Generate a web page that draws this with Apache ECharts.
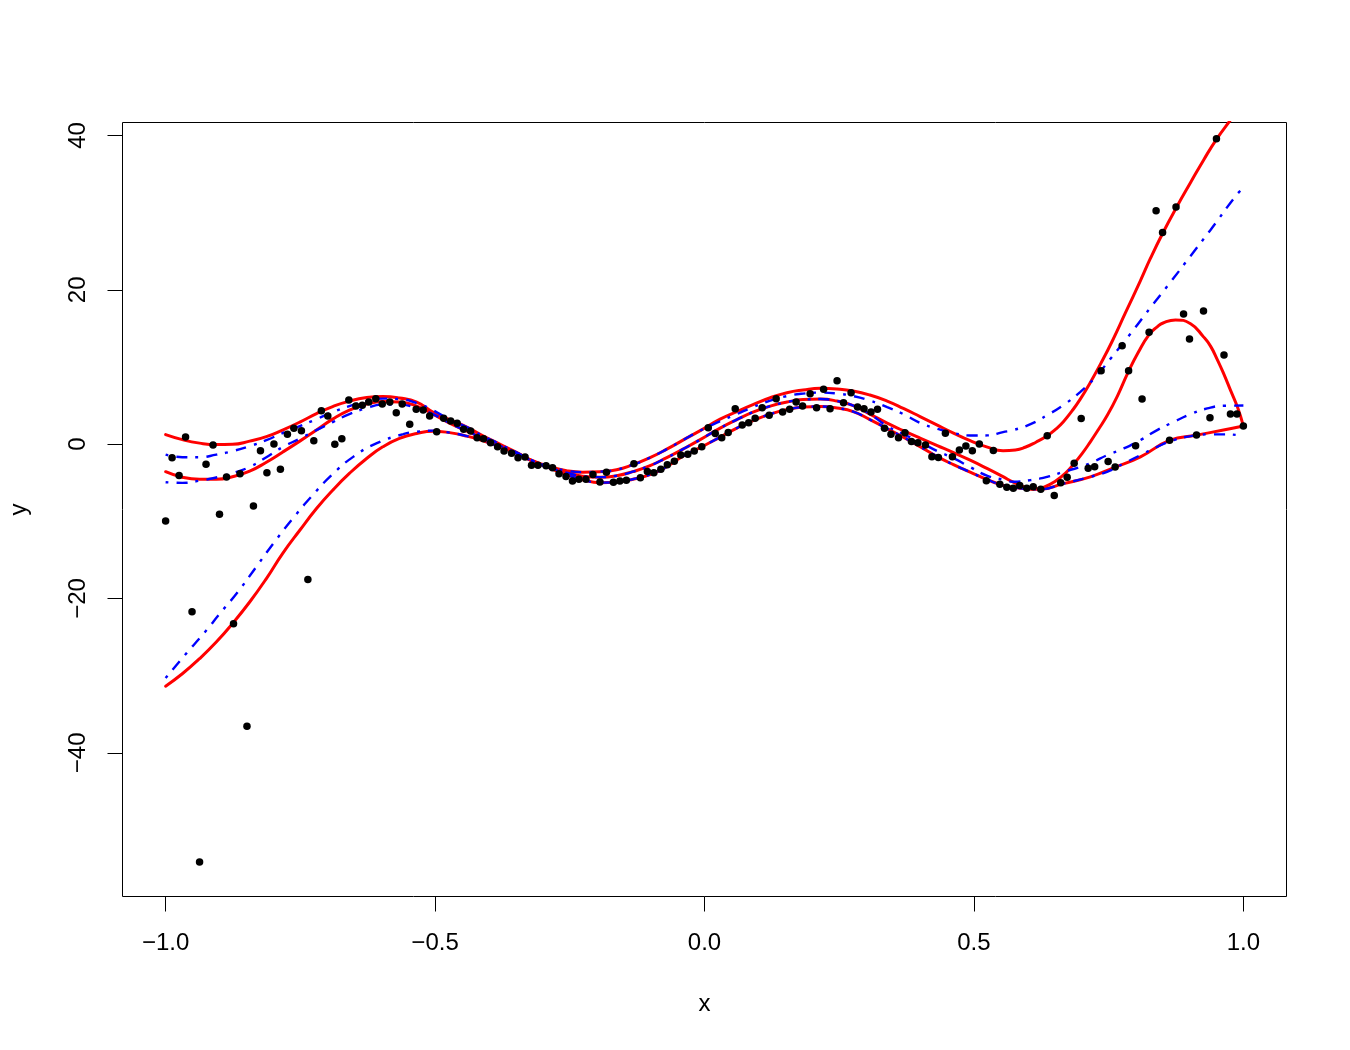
<!DOCTYPE html>
<html>
<head>
<meta charset="utf-8">
<script src="https://cdn.jsdelivr.net/npm/echarts@6/dist/echarts.min.js"></script>
<style>
html,body{margin:0;padding:0;background:#fff;}
#chart{width:1350px;height:1050px;}
</style>
</head>
<body>
<div id="chart"></div>
<script>
// ---- tick labels ----
const xTicks = [-1, -0.5, 0, 0.5, 1];
const yTicks = [-40, -20, 0, 20, 40];

// ---- observed points ----
const ptX = [-1.000,-0.988,-0.975,-0.963,-0.951,-0.937,-0.925,-0.912,-0.900,-0.887,
-0.874,-0.862,-0.849,-0.837,-0.824,-0.812,-0.799,-0.787,-0.774,-0.762,
-0.748,-0.736,-0.725,-0.711,-0.699,-0.686,-0.673,-0.660,-0.647,-0.635,
-0.623,-0.610,-0.598,-0.584,-0.572,-0.561,-0.547,-0.535,-0.522,-0.510,
-0.497,-0.484,-0.471,-0.459,-0.447,-0.434,-0.422,-0.410,-0.397,-0.384,
-0.372,-0.358,-0.346,-0.333,-0.321,-0.309,-0.294,-0.282,-0.270,-0.257,
-0.245,-0.233,-0.220,-0.207,-0.194,-0.182,-0.169,-0.157,-0.145,-0.131,
-0.119,-0.106,-0.094,-0.081,-0.069,-0.056,-0.044,-0.031,-0.019,-0.005,
0.007,0.020,0.032,0.044,0.057,0.070,0.082,0.094,0.107,0.120,
0.133,0.145,0.158,0.170,0.182,0.196,0.208,0.221,0.233,0.246,
0.258,0.272,0.284,0.296,0.309,0.321,0.334,0.346,0.360,0.372,
0.384,0.396,0.410,0.422,0.434,0.447,0.460,0.473,0.485,0.497,
0.510,0.523,0.536,0.548,0.561,0.573,0.585,0.598,0.610,0.624,
0.636,0.649,0.661,0.673,0.686,0.699,0.712,0.724,0.736,0.749,
0.762,0.775,0.787,0.800,0.812,0.825,0.838,0.850,0.863,0.875,
0.889,0.900,0.913,0.926,0.938,0.950,0.964,0.976,0.988,1.000];
const ptY = [-9.97,-1.76,-4.05,0.92,-21.73,-54.15,-2.62,-0.12,-9.10,-4.27,
-23.29,-3.84,-36.55,-8.03,-0.86,-3.71,0.01,-3.27,1.27,2.05,
1.74,-17.53,0.44,4.33,3.64,-0.03,0.70,5.72,4.94,5.03,
5.46,5.89,5.20,5.46,4.07,5.20,2.57,4.51,4.42,3.64,
1.61,3.35,3.00,2.70,1.92,1.70,0.83,0.70,0.18,-0.34,
-0.89,-1.19,-1.76,-1.67,-2.75,-2.75,-2.80,-3.06,-3.84,-4.20,
-4.78,-4.56,-4.56,-3.92,-4.91,-3.64,-4.95,-4.78,-4.68,-2.54,
-4.36,-3.55,-3.72,-3.25,-2.67,-2.23,-1.41,-1.31,-0.89,-0.35,
2.13,1.37,0.83,1.50,4.59,2.48,2.77,3.35,4.72,3.73,
5.89,4.16,4.51,5.46,4.94,6.53,4.72,7.11,4.59,8.22,
5.37,6.66,4.81,4.59,4.16,4.51,2.05,1.27,0.83,1.48,
0.34,0.18,-0.12,-1.63,-1.74,1.40,-1.63,-0.77,-0.25,-0.87,
0.01,-4.75,-0.83,-5.21,-5.59,-5.72,-5.37,-5.72,-5.52,-5.85,
1.09,-6.66,-5.00,-4.29,-2.49,3.32,-3.14,-2.94,9.50,-2.26,
-2.97,12.76,9.52,-0.21,5.85,14.50,30.26,27.41,0.49,30.74,
16.87,13.63,1.18,17.26,3.42,39.56,11.55,3.90,3.90,2.35];

// ---- common x grid for the curves (left and middle part) ----
const gx = [-1.000,-0.969,-0.937,-0.906,-0.876,-0.844,-0.813,-0.783,-0.751,-0.720,
-0.690,-0.659,-0.627,-0.597,-0.566,-0.534,-0.504,-0.473,-0.441,-0.412,
-0.380,-0.348,-0.319,-0.287,-0.256,-0.226,-0.194,-0.163,-0.133,-0.101,
-0.070,-0.040,-0.008,0.029,0.060,0.090,0.122,0.153,0.183,0.215,
0.246,0.276,0.307,0.339,0.369,0.400,0.432,0.462,0.493,0.525,0.554];

// red solid curves
const redUpperY = [1.23,0.58,0.13,-0.06,-0.03,0.39,0.97,1.82,2.85,3.96,
4.87,5.58,6.03,6.16,5.97,5.45,4.15,3.18,2.21,1.10,
0.00,-1.10,-2.14,-2.92,-3.44,-3.63,-3.57,-3.31,-2.66,-1.75,
-0.65,0.52,1.75,3.24,4.22,5.12,6.01,6.66,7.01,7.23,
7.14,6.88,6.36,5.58,4.63,3.57,2.46,1.43,0.45,-0.39,-0.85];
const redUpperTailX = [0.577,0.595,0.615,0.636,0.653,0.666,0.682,0.697,0.716,0.735,0.757,0.781,0.809,0.827,0.850,0.876,0.902,0.926,0.950,0.976,1.000];
const redUpperTailY = [-0.75,-0.40,0.25,1.08,2.00,2.90,4.30,5.80,8.00,10.40,13.40,17.00,21.20,24.00,27.30,30.70,33.90,36.80,39.50,42.00,44.30];

const redMidY = [-3.57,-4.28,-4.54,-4.54,-4.22,-3.50,-2.34,-1.04,0.39,1.82,
3.24,4.41,5.19,5.51,5.45,4.93,3.89,2.72,1.69,0.78,
-0.19,-1.17,-2.21,-3.05,-3.70,-4.15,-4.28,-4.09,-3.57,-2.79,
-1.75,-0.65,0.58,2.08,3.18,4.15,4.93,5.45,5.77,5.84,
5.58,4.99,3.89,2.72,1.75,0.78,-0.19,-1.10,-2.08,-3.18,-4.22];
const redMidTailX = [0.573,0.592,0.610,0.632,0.651,0.670,0.686,0.701,0.716,0.731,0.748,0.766,0.786,0.805,0.825,0.840,0.851,0.874,0.902,0.926,0.939,0.952,0.963,0.976,0.989,1.000];
const redMidTailY = [-4.93,-5.51,-5.84,-5.50,-4.80,-3.75,-2.50,-1.20,0.30,1.90,3.80,6.20,9.30,11.90,14.20,15.20,15.70,16.10,15.60,13.90,12.70,10.90,9.20,7.00,4.80,2.34];

const redLowerY = [-31.36,-29.75,-27.80,-25.65,-23.26,-20.46,-17.42,-14.18,-11.16,-8.34,
-5.97,-3.80,-1.86,-0.35,0.74,1.38,1.68,1.49,1.04,0.45,
-0.32,-1.23,-2.21,-3.11,-3.96,-4.61,-4.99,-4.90,-4.55,-3.96,
-2.92,-1.56,-0.45,0.91,2.08,3.05,3.89,4.48,4.80,4.87,
4.67,4.22,3.18,2.01,0.91,-0.32,-1.62,-2.66,-3.63,-4.61,-5.32];
const redLowerTailX = [0.586,0.623,0.666,0.716,0.762,0.809,0.863,0.913,0.963,1.000];
const redLowerTailY = [-5.71,-5.84,-5.12,-4.24,-2.98,-1.65,0.48,1.17,1.82,2.34];

// blue dash-dot curves
const blueUpperY = [-1.36,-1.69,-1.69,-1.36,-0.91,-0.26,0.52,1.43,2.34,3.24,
4.15,4.93,5.58,5.90,5.84,5.32,4.41,3.18,2.21,1.10,
0.00,-1.10,-2.14,-2.92,-3.44,-3.63,-3.57,-3.31,-2.66,-1.75,
-0.65,0.52,1.75,2.98,3.89,4.80,5.64,6.23,6.55,6.68,
6.55,6.23,5.64,4.80,3.89,2.76,1.99,1.44,1.12,1.13,1.55];
const blueUpperTailX = [0.573,0.605,0.636,0.666,0.697,0.727,0.753,0.790,0.827,0.865,0.902,0.939,0.989,1.000];
const blueUpperTailY = [1.82,2.59,3.76,5.06,6.75,8.82,11.03,14.27,17.64,21.02,24.39,27.76,32.43,33.10];

const blueMidY = [-4.93,-5.02,-4.74,-4.32,-3.76,-2.95,-1.69,-0.39,0.71,1.82,
2.85,3.89,4.67,5.12,5.12,4.67,3.89,2.72,1.69,0.78,
-0.19,-1.17,-2.21,-3.05,-3.70,-4.15,-4.28,-4.09,-3.57,-2.79,
-1.75,-0.65,0.58,2.08,3.18,4.15,4.93,5.45,5.77,5.84,
5.58,4.99,3.89,2.34,1.30,0.26,-0.91,-1.82,-2.98,-4.10,-4.60];
const blueMidTailX = [0.573,0.605,0.636,0.666,0.697,0.720,0.747,0.778,0.809,0.840,0.871,0.902,0.933,0.964,1.000];
const blueMidTailY = [-4.87,-4.67,-4.24,-3.59,-2.95,-2.34,-1.43,-0.56,0.53,1.82,2.89,3.89,4.63,4.97,5.00];

const blueLowerHeadX = [-1.000,-0.962,-0.928,-0.897,-0.866,-0.832,-0.798,-0.764,-0.730,-0.692,-0.652,-0.609,-0.559,-0.535,-0.504];
const blueLowerHeadY = [-30.31,-27.15,-24.43,-21.76,-19.16,-15.92,-12.68,-9.64,-6.84,-4.02,-1.65,0.09,1.30,1.60,1.75];
const blueLowerMidY = [1.49,1.04,0.45,-0.32,-1.23,-2.21,-3.11,-3.96,-4.61,-4.99,
-4.90,-4.55,-3.96,-2.92,-1.56,-0.45,0.91,2.08,3.05,3.89,
4.48,4.80,4.87,4.67,4.22,3.18,2.01,0.91,-0.32,-1.62,
-2.66,-3.63,-4.61,-5.32];
const blueLowerTailX = [0.586,0.623,0.666,0.716,0.747,0.778,0.809,0.840,0.871,0.902,0.933,0.964,0.989,1.000];
const blueLowerTailY = [-5.71,-5.84,-5.12,-4.24,-3.59,-2.50,-1.43,-0.35,0.52,1.04,1.26,1.26,1.17,0.87];

// ---- build series data ----
function zip(xa, ya) { return xa.map((v, i) => [v, ya[i]]); }
const redUpper = zip(gx.concat(redUpperTailX), redUpperY.concat(redUpperTailY));
const redMid = zip(gx.concat(redMidTailX), redMidY.concat(redMidTailY));
const redLower = zip(gx.concat(redLowerTailX), redLowerY.concat(redLowerTailY));
const blueUpper = zip(gx.concat(blueUpperTailX), blueUpperY.concat(blueUpperTailY));
const blueMid = zip(gx.concat(blueMidTailX), blueMidY.concat(blueMidTailY));
const blueLower = zip(blueLowerHeadX.concat(gx.slice(17), blueLowerTailX),
                      blueLowerHeadY.concat(blueLowerMidY, blueLowerTailY));
const points = zip(ptX, ptY);

const FONT = '"Liberation Sans", Arial, Helvetica, sans-serif';
const fmt = v => (v < 0 ? '\u2212' : '') + Math.abs(v).toFixed(1);
const fmtY = v => (v < 0 ? '\u2212' : '') + Math.abs(v).toFixed(0);

function redSeries(data) {
  return { type: 'line', data: data, showSymbol: false, symbol: 'none', smooth: 0.5,
    lineStyle: { color: '#ff0000', width: 3, cap: 'round', join: 'round' }, z: 2, silent: true, clip: true };
}
function blueSeries(data) {
  return { type: 'line', data: data, showSymbol: false, symbol: 'none', smooth: 0.5,
    lineStyle: { color: '#0000ff', width: 2.4, type: [3, 8, 11, 8], cap: 'butt' }, z: 3, silent: true, clip: true };
}

const chart = echarts.init(document.getElementById('chart'), null, { renderer: 'canvas' });
chart.setOption({
  animation: false,
  backgroundColor: '#ffffff',
  textStyle: { fontFamily: FONT },
  grid: { left: 122.5, right: 63.5, top: 122.5, bottom: 153.5, show: true, borderColor: '#000', borderWidth: 1,
          backgroundColor: 'transparent', containLabel: false, outerBoundsMode: 'none' },
  xAxis: {
    type: 'value', min: -1.08, max: 1.08,
    axisLine: { show: false, onZero: false },
    splitLine: { show: false },
    axisTick: { show: true, customValues: xTicks, length: 15, inside: false, lineStyle: { color: '#000', width: 1 } },
    axisLabel: { customValues: xTicks, formatter: fmt, fontSize: 24, color: '#000', fontFamily: FONT, margin: 35 },
    name: 'x', nameLocation: 'middle', nameGap: 96,
    nameTextStyle: { fontSize: 24, color: '#000', fontFamily: FONT }
  },
  yAxis: {
    type: 'value', min: -58.62, max: 41.68,
    axisLine: { show: false, onZero: false },
    splitLine: { show: false },
    axisTick: { show: true, customValues: yTicks, length: 15, inside: false, lineStyle: { color: '#000', width: 1 } },
    axisLabel: { customValues: yTicks, formatter: fmtY, fontSize: 24, color: '#000', fontFamily: FONT, rotate: 90, margin: 32 },
    name: 'y', nameLocation: 'middle', nameGap: 91,
    nameTextStyle: { fontSize: 24, color: '#000', fontFamily: FONT }
  },
  series: [
    redSeries(redUpper), redSeries(redMid), redSeries(redLower),
    blueSeries(blueUpper), blueSeries(blueMid), blueSeries(blueLower),
    { type: 'scatter', data: points, symbol: 'circle', symbolSize: 7.5,
      itemStyle: { color: '#000', opacity: 1 }, z: 4, silent: true }
  ]
});
</script>
</body>
</html>
